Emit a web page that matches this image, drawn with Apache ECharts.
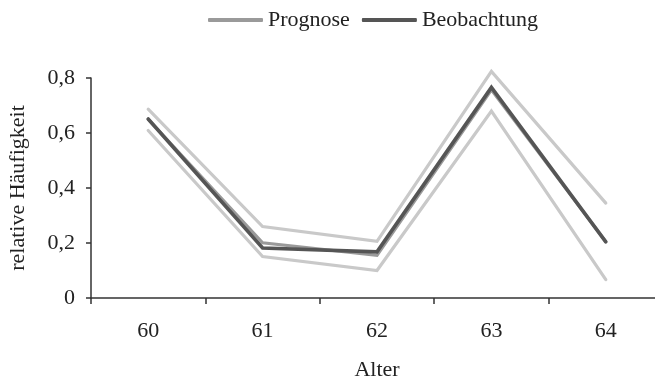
<!DOCTYPE html>
<html>
<head>
<meta charset="utf-8">
<script src="https://cdn.jsdelivr.net/npm/echarts@6/dist/echarts.min.js"></script>
<style>
  html, body { margin: 0; padding: 0; background: #fff; }
  #chart { width: 655px; height: 383px; }
</style>
</head>
<body>
<div id="chart"></div>
<script>
// Age categories on the x axis
const ages = ['60', '61', '62', '63', '64'];

// Relative frequencies per age
const prognose    = [0.650, 0.201, 0.155, 0.757, 0.205];
const beobachtung = [0.651, 0.182, 0.168, 0.766, 0.204];
const obergrenze  = [0.687, 0.260, 0.206, 0.824, 0.345];
const untergrenze = [0.609, 0.151, 0.100, 0.680, 0.067];

// y-axis tick values
const yTicks = [0, 0.2, 0.4, 0.6, 0.8];

const serif = 'Liberation Serif';
const textColor = '#222';
const fs = 22;

const chart = echarts.init(document.getElementById('chart'), null, { renderer: 'canvas' });

function lineSeries(name, data, color, width, z) {
  return {
    name: name,
    type: 'line',
    data: data,
    symbol: 'none',
    clip: false,
    z: z,
    lineStyle: { color: color, width: width, cap: 'round', join: 'miter' },
    itemStyle: { color: color },
    emphasis: { disabled: true },
    animation: false
  };
}

chart.setOption({
  animation: false,
  textStyle: { fontFamily: serif, color: textColor },
  legend: {
    top: 4,
    left: 203,
    data: [
      { name: 'Prognose', icon: 'roundRect' },
      { name: 'Beobachtung', icon: 'roundRect' }
    ],
    itemWidth: 55,
    itemHeight: 4,
    itemGap: 12,
    textStyle: { fontFamily: serif, fontSize: fs, color: textColor }
  },
  grid: {
    left: 91, top: 78, width: 572, height: 220,
    containLabel: false,
    outerBoundsMode: 'none'
  },
  xAxis: {
    type: 'category',
    data: ages,
    boundaryGap: true,
    name: 'Alter',
    nameLocation: 'middle',
    nameGap: 61,
    nameTextStyle: { fontFamily: serif, fontSize: fs, color: textColor },
    axisLine: { lineStyle: { color: '#333', width: 1.5 } },
    axisTick: { show: true, length: 6, lineStyle: { color: '#333', width: 1.5 } },
    axisLabel: { fontFamily: serif, fontSize: fs, color: textColor, margin: 22 },
    splitLine: { show: false }
  },
  yAxis: {
    type: 'value',
    min: yTicks[0],
    max: yTicks[yTicks.length - 1],
    interval: 0.2,
    name: 'relative Häufigkeit',
    nameLocation: 'middle',
    nameRotate: 90,
    nameGap: 62,
    nameTextStyle: { fontFamily: serif, fontSize: fs, color: textColor },
    axisLine: { show: true, lineStyle: { color: '#333', width: 1.5 } },
    axisTick: { show: true, length: 5, lineStyle: { color: '#333', width: 1.5 } },
    axisLabel: {
      fontFamily: serif, fontSize: fs, color: textColor, margin: 16,
      formatter: v => (v === 0 ? '0' : v.toFixed(1).replace('.', ','))
    },
    splitLine: { show: false }
  },
  series: [
    lineSeries('Obergrenze', obergrenze, '#c9c9c9', 3.2, 1),
    lineSeries('Untergrenze', untergrenze, '#c9c9c9', 3.2, 1),
    lineSeries('Prognose', prognose, '#9a9a9a', 3.2, 2),
    lineSeries('Beobachtung', beobachtung, '#555555', 3.6, 3)
  ]
});
</script>
</body>
</html>
